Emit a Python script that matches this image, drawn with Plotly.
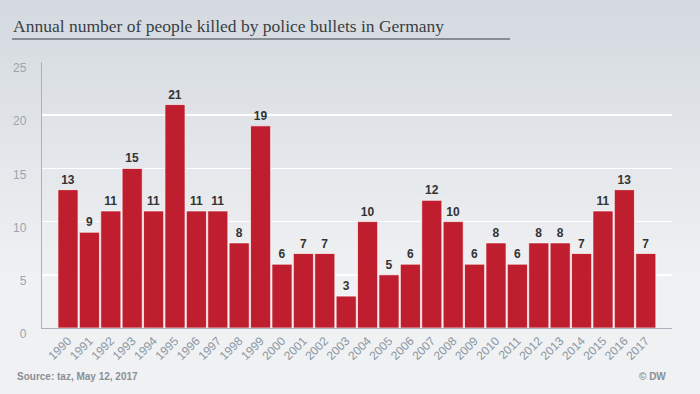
import plotly.graph_objects as go

years = [str(y) for y in range(1990, 2018)]
killed = [13, 9, 11, 15, 11, 21, 11, 11, 8, 19, 6, 7, 7, 3, 10, 5, 6, 12, 10, 6, 8, 6, 8, 8, 7, 11, 13, 7]
y_ticks = [0, 5, 10, 15, 20, 25]

title_text = "Annual number of people killed by police bullets in Germany"
source_text = "Source: taz, May 12, 2017"
credit_text = "© DW"

W, H = 700, 394
ML, MR, MT, MB = 42, 28, 62, 66
PW, PH = W - ML - MR, H - MT - MB


def px_x(px):
    return (px - ML) / PW


def px_y(py):
    return (H - MB - py) / PH


fig = go.Figure()
fig.add_trace(go.Bar(
    x=years, y=killed,
    marker=dict(color="#be1e2d", line=dict(color="rgba(255,255,255,0.85)", width=0.8)),
    text=killed, textposition="outside", cliponaxis=False,
    textfont=dict(family="Liberation Sans", size=12, color="#333333"),
    texttemplate="<b>%{text}</b>",
    hoverinfo="skip",
))

# background gradient bands (decoration)
shapes = []
n = 40
top = (212, 218, 224)
bot = (240, 241, 243)
for i in range(n):
    t = min(1.0, i / (n * 0.7))
    c = tuple(int(round(top[k] + (bot[k] - top[k]) * t)) for k in range(3))
    y0 = px_y(i * H / n)
    y1 = px_y((i + 1) * H / n + 1)
    shapes.append(dict(type="rect", xref="paper", yref="paper", x0=px_x(0), x1=px_x(W),
                       y0=y1, y1=y0, fillcolor="rgb(%d,%d,%d)" % c, line=dict(width=0), layer="below"))
# title underline
shapes.append(dict(type="line", xref="paper", yref="paper", x0=px_x(12), x1=px_x(510),
                   y0=px_y(39), y1=px_y(39), line=dict(color="#3a3f45", width=1.2)))

fig.update_layout(
    width=W, height=H,
    margin=dict(l=ML, r=MR, t=MT, b=MB, autoexpand=False),
    paper_bgcolor="#eef0f2", plot_bgcolor="rgba(0,0,0,0)",
    showlegend=False, bargap=0.06,
    shapes=shapes,
    font=dict(family="Liberation Sans", color="#8a97a3"),
    annotations=[
        dict(text=title_text, xref="paper", yref="paper", x=px_x(11), y=px_y(26),
             xanchor="left", yanchor="middle", showarrow=False,
             font=dict(family="Liberation Serif", size=17.5, color="#3a3f45")),
        dict(text="<b>" + source_text + "</b>", xref="paper", yref="paper", x=px_x(15), y=px_y(376),
             xanchor="left", yanchor="middle", showarrow=False,
             font=dict(family="Liberation Sans", size=10, color="#8a8f96")),
        dict(text="<b>" + credit_text + "</b>", xref="paper", yref="paper", x=px_x(668), y=px_y(376),
             xanchor="right", yanchor="middle", showarrow=False,
             font=dict(family="Liberation Sans", size=10, color="#8a8f96")),
    ],
)
fig.update_xaxes(
    type="category", range=[-1.215, 28.225], tickangle=-45, automargin=False,
    tickfont=dict(size=12, color="#8a97a3"), showgrid=False,
    showline=True, linecolor="#a9b2ba", linewidth=1.2, ticks="",
)
fig.update_yaxes(
    range=[0, 25], tickvals=y_ticks, showgrid=True, gridcolor="#ffffff", gridwidth=1.5,
    zeroline=False, showline=True, linecolor="#a9b2ba", linewidth=1.2, automargin=False,
    ticks="outside", ticklen=12, tickcolor="rgba(0,0,0,0)",
    tickfont=dict(size=12, color="#9aa5b0"), ticklabelshift=6,
)

fig.write_html("out.html", config={"displayModeBar": False, "staticPlot": True},
               post_script="document.body.style.margin='0';document.body.style.padding='0';"
                           "document.body.style.overflow='hidden';")
